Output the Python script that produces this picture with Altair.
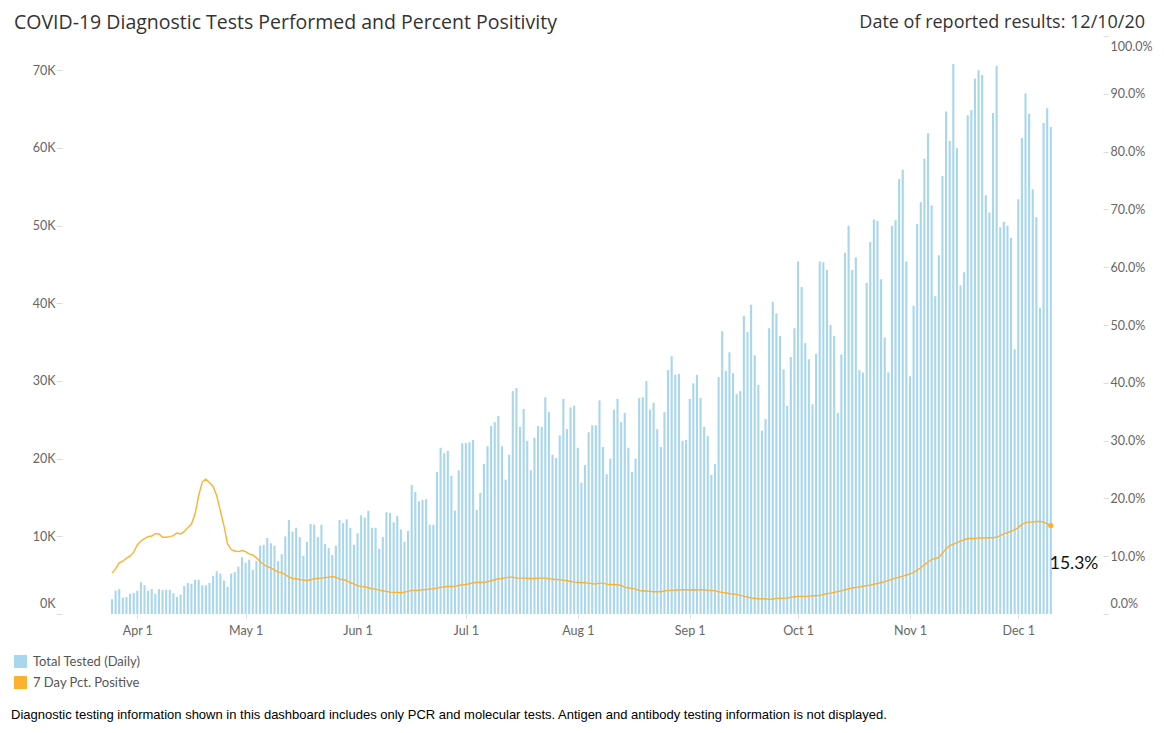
import altair as alt
import pandas as pd

start_date = "2020-03-25"

# Daily total tests (thousands)
tested_k = [
    1.9, 3.0, 3.2, 2.1, 2.2, 2.6, 2.7, 3.0, 4.1, 3.7, 3.0, 3.2, 2.6, 3.2, 3.1, 3.1, 3.1, 2.7, 2.2, 2.5,
    3.6, 4.0, 3.9, 4.4, 4.4, 3.7, 3.7, 4.0, 4.9, 5.5, 5.2, 4.3, 3.5,
    5.2, 5.4, 6.1, 7.3, 6.6, 7.0, 5.7, 6.8, 8.8, 8.9, 9.8, 9.1, 8.8, 6.8, 7.7, 10.0, 12.1, 10.6, 11.1, 9.9,
    7.5, 9.3, 11.6, 11.5, 9.9, 11.5, 9.0, 8.5, 7.6, 8.8, 12.1, 11.7, 12.2, 11.1, 8.9,
    10.4, 12.7, 12.4, 13.3, 11.1, 11.1, 8.4, 9.9, 13.1, 13.0, 11.8, 12.6, 10.9, 9.3, 10.7, 16.6, 15.7, 14.5,
    14.7, 14.8, 11.5, 11.5, 18.3, 21.4, 20.7, 21.0, 17.8, 13.3, 18.5, 22.0, 22.0, 22.1, 22.4, 13.4,
    15.6, 19.3, 21.6, 24.2, 24.7, 25.5, 21.6, 17.3, 20.5, 28.7, 29.1, 24.1, 26.4, 22.3, 18.5, 22.7, 24.2,
    24.1, 27.9, 26.0, 20.5, 20.1, 23.0, 27.7, 23.8, 26.6, 26.8, 21.4, 16.9, 19.2, 23.4, 24.3, 24.3, 27.5,
    21.5, 18.0, 20.0, 26.3, 27.7, 24.7, 25.9, 21.4, 18.3, 20.0, 27.8, 27.9, 30.0, 26.3, 27.2, 23.8, 21.5,
    26.0, 31.4, 33.2, 30.8, 30.9, 22.3, 22.4, 27.7, 29.7, 30.8, 27.8, 24.1, 22.9, 17.9, 19.3, 30.5,
    36.4, 31.3, 33.7, 31.0, 28.3, 28.7, 38.4, 36.3, 39.8, 33.3, 29.5, 23.6, 25.1, 36.8, 40.2, 38.7, 35.8,
    31.5, 26.8, 33.1, 36.8, 45.4, 42.1, 34.9, 32.8, 27.0, 33.5, 45.4, 45.3, 44.3, 37.2, 35.8, 25.9,
    33.4, 46.5, 50.0, 44.3, 45.9, 31.4, 31.1, 42.6, 47.9, 50.8, 50.6, 43.1, 35.6, 31.1, 50.0, 50.7, 56.0,
    57.2, 45.4, 30.6, 39.7, 50.2, 53.0, 58.6, 61.9, 52.6, 40.9, 46.2, 56.4, 64.7, 60.9, 70.8, 60.0,
    42.3, 44.0, 64.2, 64.9, 68.9, 70.0, 69.4, 53.9, 51.7, 64.5, 70.6, 49.8, 50.5, 50.0, 48.4, 34.1, 53.4,
    61.3, 67.0, 64.4, 54.7, 51.1, 39.4, 63.2, 65.1, 62.7,
]

# 7-day percent positive (%)
pct_positive = [
    7.07, 7.8, 8.85, 9.14, 9.66, 10.0, 10.69, 11.95, 12.64, 13.05, 13.39, 13.5, 13.9, 13.85, 13.28, 13.28,
    13.39, 13.56, 14.02, 13.85, 14.25, 14.94, 15.57, 17.3, 20.46, 22.87, 23.33, 22.76, 22.07, 20.46, 17.87,
    15.29, 12.13,
    11.15, 10.9, 10.8, 10.98, 10.8, 10.4, 10.23, 9.71, 9.08, 8.56, 8.22, 7.99, 7.59, 7.24, 7.18, 6.78, 6.44,
    6.15, 6.09, 5.92, 5.86, 5.8, 5.92, 6.15, 6.15, 6.2, 6.32, 6.38, 6.49, 6.32, 6.03, 5.92, 5.8, 5.4, 5.2,
    4.89, 4.77, 4.71, 4.54, 4.37, 4.31, 4.14, 4.02, 3.91, 3.79, 3.74, 3.74, 3.68, 3.79, 3.91, 4.08, 4.08,
    4.08, 4.2, 4.25, 4.31, 4.37, 4.48, 4.6, 4.71, 4.77, 4.77, 4.83, 4.94, 5.06, 5.11, 5.23, 5.4, 5.46,
    5.52, 5.46, 5.57, 5.75, 5.92, 6.09, 6.15, 6.26, 6.38, 6.38, 6.2, 6.2, 6.2, 6.15, 6.15, 6.15, 6.2, 6.2,
    6.2, 6.09, 6.03, 5.98, 5.92, 5.86, 5.75, 5.63, 5.52, 5.46, 5.46, 5.4, 5.34, 5.23, 5.2, 5.35,
    5.34, 5.17, 5.11, 5.11, 5.06, 4.94, 4.66, 4.54, 4.43, 4.31, 4.08, 3.99, 3.97, 3.91, 3.85, 3.85, 3.85,
    3.97, 4.08, 4.08, 4.14, 4.14, 4.2, 4.2, 4.14, 4.2, 4.14, 4.2, 4.2, 4.08, 4.08, 4.05, 3.85,
    3.74, 3.68, 3.51, 3.45, 3.39, 3.22, 3.1, 2.93, 2.76, 2.7, 2.64, 2.64, 2.64, 2.53, 2.59, 2.7, 2.7, 2.7,
    2.76, 2.87, 2.99, 3.05, 3.05, 3.05, 3.1, 3.16, 3.16, 3.22, 3.39, 3.51, 3.62, 3.75, 3.9,
    4.0, 4.2, 4.35, 4.5, 4.6, 4.7, 4.8, 4.9, 5.0, 5.15, 5.3, 5.45, 5.6, 5.8, 6.0, 6.2, 6.35, 6.55, 6.75,
    6.95, 7.15, 7.6, 8.0, 8.5, 9.0, 9.4, 9.6, 9.8, 10.5, 11.3, 11.8, 12.1, 12.3,
    12.6, 12.85, 13.05, 13.05, 13.05, 13.15, 13.15, 13.15, 13.2, 13.2, 13.3, 13.55, 13.85, 14.1, 14.3,
    14.6, 14.95, 15.5, 15.8, 15.9, 15.9, 16.0, 16.0, 15.9, 15.6, 15.3,
]

series_names = ["Total Tested (Daily)", "7 Day Pct. Positive"]
series_colors = ["#a8d6ec", "#fbb232"]
left_ticks = [0, 10000, 20000, 30000, 40000, 50000, 60000, 70000]
right_ticks = [0, 0.1, 0.2, 0.3, 0.4, 0.5, 0.6, 0.7, 0.8, 0.9, 1.0]
month_ticks = list(range(4, 13))

title_text = "COVID-19 Diagnostic Tests Performed and Percent Positivity"
date_text = "Date of reported results: 12/10/20"
footer_text = ("Diagnostic testing information shown in this dashboard includes only PCR and "
               "molecular tests. Antigen and antibody testing information is not displayed.")

n = len(tested_k)
dates = pd.date_range(start_date, periods=n, freq="D").strftime("%Y-%m-%d").tolist()
bar_df = pd.DataFrame({
    "date": dates,
    "tested": [round(v * 1000) for v in tested_k],
    "series": series_names[0],
})
line_df = pd.DataFrame({
    "date": dates,
    "pct": [v / 100 for v in pct_positive[:n]],
    "series": series_names[1],
})
last_df = line_df.tail(1)

AX_FONT = "Lato"
AX_SIZE = 12.5
AX_COLOR = "#666666"
TICK_COLOR = "#dcdcdc"

x_scale = alt.Scale(
    type="utc", padding=0,
    domain=[alt.DateTime(year=2020, month=3, date=11, hours=3, minutes=36, utc=True),
            alt.DateTime(year=2020, month=12, date=24, hours=11, utc=True)],
)
x_axis = alt.Axis(
    values=[alt.DateTime(year=2020, month=m, date=1, utc=True) for m in month_ticks],
    format="%b %-d", title=None, grid=False, domain=False,
    ticks=True, tickColor=TICK_COLOR, tickSize=4, labelPadding=6,
    labelFont=AX_FONT, labelFontSize=AX_SIZE, labelColor=AX_COLOR,
)
color_scale = alt.Scale(domain=series_names, range=series_colors)
legend = alt.Legend(title=None, orient="none", legendX=-48, legendY=619,
                    symbolType="square", symbolSize=169,
                    symbolStrokeWidth=0, symbolOpacity=1,
                    labelFont=AX_FONT, labelFontSize=13,
                    labelColor="#555555", labelOffset=6,
                    rowPadding=7, padding=0)

bars = alt.Chart(bar_df).mark_bar(size=2.1).encode(
    x=alt.X("date:T", scale=x_scale, axis=x_axis),
    y=alt.Y("tested:Q",
            scale=alt.Scale(domain=[0, 74417], nice=False),
            axis=alt.Axis(values=left_ticks, labelExpr="datum.value / 1000 + 'K'",
                          title=None, grid=False, domain=False, ticks=True,
                          tickSize=6, tickColor=TICK_COLOR,
                          labelPadding=1, labelFlush=True, labelFlushOffset=-4,
                          labelFont=AX_FONT, labelFontSize=AX_SIZE,
                          labelColor=AX_COLOR)),
    color=alt.Color("series:N", scale=color_scale, legend=legend),
)

y_right = alt.Y("pct:Q",
                scale=alt.Scale(domain=[0, 1], nice=False),
                axis=alt.Axis(values=right_ticks, format=".1%", orient="right",
                              title=None, grid=False, domain=False, ticks=True,
                              tickSize=5, tickColor=TICK_COLOR, labelPadding=2,
                              labelFlush=True, labelFlushOffset=-4,
                              labelFont=AX_FONT, labelFontSize=AX_SIZE,
                              labelColor=AX_COLOR))

line = alt.Chart(line_df).mark_line(strokeWidth=1.4).encode(
    x=alt.X("date:T", scale=x_scale),
    y=y_right,
    color=alt.Color("series:N", scale=color_scale, legend=None),
)
dot = alt.Chart(last_df).mark_circle(size=28, opacity=1).encode(
    x=alt.X("date:T", scale=x_scale),
    y=alt.Y("pct:Q"),
    color=alt.Color("series:N", scale=color_scale, legend=None),
)
label = alt.Chart(last_df).mark_text(
    align="left", baseline="middle", dx=-1, dy=38, fontSize=17.5,
    font="Lato", color="#111111",
).encode(
    x=alt.X("date:T", scale=x_scale),
    y=alt.Y("pct:Q"),
    text=alt.Text("pct:Q", format=".1%"),
)

right_layer = alt.layer(line, dot, label)

ann = pd.DataFrame({"t": [title_text]})
title = alt.Chart(ann).mark_text(
    align="left", baseline="alphabetic", fontSize=19.5, font="Open Sans",
    color="#333333",
).encode(x=alt.value(-48), y=alt.value(-7), text="t:N")

date_df = pd.DataFrame({"t": [date_text]})
date_lbl = alt.Chart(date_df).mark_text(
    align="right", baseline="alphabetic", fontSize=18, font="Open Sans", color="#333333",
).encode(x=alt.value(1083), y=alt.value(-8), text="t:N")

foot_df = pd.DataFrame({"t": [footer_text]})
footer = alt.Chart(foot_df).mark_text(
    align="left", baseline="middle", fontSize=13, font="Liberation Sans", color="#000000",
).encode(x=alt.value(-51), y=alt.value(679), text="t:N")

chart = alt.layer(bars, right_layer, title, date_lbl, footer).resolve_scale(
    y="independent"
).properties(
    width=1041, height=578,
    padding={"left": 54, "top": 28, "right": 53, "bottom": 110},
    autosize=alt.AutoSizeParams(type="none"),
    background="#ffffff",
).configure_view(stroke=None)

chart.save("out.html", embed_options={"renderer": "svg", "actions": False})
